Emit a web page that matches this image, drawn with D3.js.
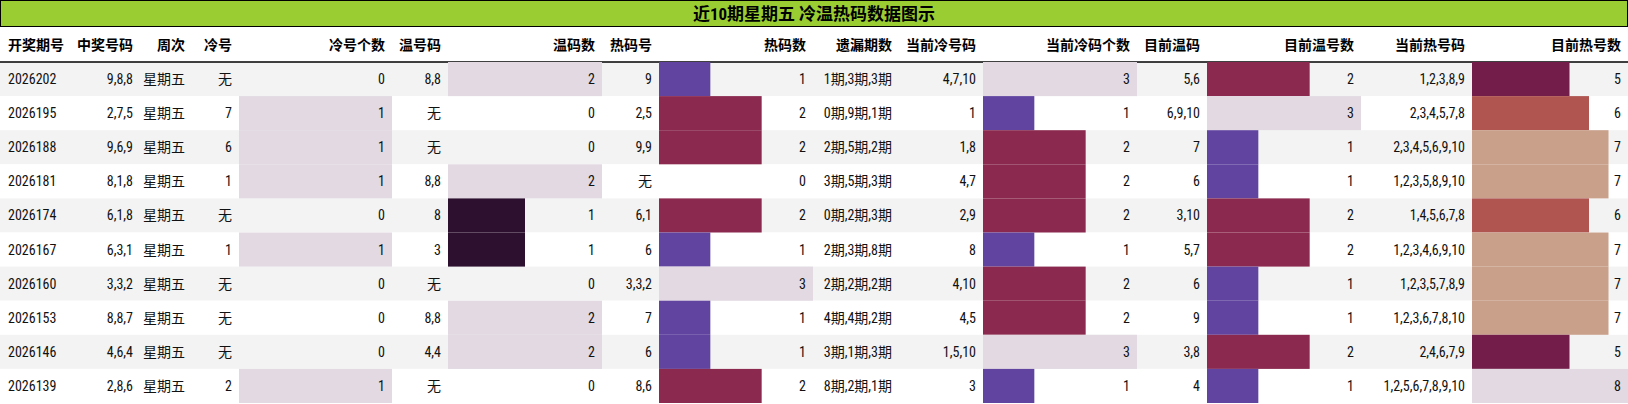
<!DOCTYPE html>
<html><head><meta charset="utf-8">
<script src="https://cdn.jsdelivr.net/npm/d3@7"></script>
<style>body{margin:0;background:#fff}svg{display:block}</style>
</head><body><div id="c"></div>
<script>
const title = "近10期星期五 冷温热码数据图示";
const headers = ["开奖期号","中奖号码","周次","冷号","冷号个数","温号码","温码数","热码号","热码数","遗漏期数","当前冷号码","当前冷码个数","目前温码","目前温号数","当前热号码","目前热号数"];
const issues = ["2026202","2026195","2026188","2026181","2026174","2026167","2026160","2026153","2026146","2026139"];
const winning = ["9,8,8","2,7,5","9,6,9","8,1,8","6,1,8","6,3,1","3,3,2","8,8,7","4,6,4","2,8,6"];
const weekday = ["星期五","星期五","星期五","星期五","星期五","星期五","星期五","星期五","星期五","星期五"];
const coldNums = ["无","7","6","1","无","1","无","无","无","2"];
const coldCount = [0,1,1,1,0,1,0,0,0,1];
const warmNums = ["8,8","无","无","8,8","8","3","无","8,8","4,4","无"];
const warmCount = [2,0,0,2,1,1,0,2,2,0];
const hotNums = ["9","2,5","9,9","无","6,1","6","3,3,2","7","6","8,6"];
const hotCount = [1,2,2,0,2,1,3,1,1,2];
const missing = ["1期,3期,3期","0期,9期,1期","2期,5期,2期","3期,5期,3期","0期,2期,3期","2期,3期,8期","2期,2期,2期","4期,4期,2期","3期,1期,3期","8期,2期,1期"];
const curCold = ["4,7,10","1","1,8","4,7","2,9","8","4,10","4,5","1,5,10","3"];
const curColdCount = [3,1,2,2,2,1,2,2,3,1];
const curWarm = ["5,6","6,9,10","7","6","3,10","5,7","6","9","3,8","4"];
const curWarmCount = [2,3,1,1,2,2,1,1,2,1];
const curHot = ["1,2,3,8,9","2,3,4,5,7,8","2,3,4,5,6,9,10","1,2,3,5,8,9,10","1,4,5,6,7,8","1,2,3,4,6,9,10","1,2,3,5,7,8,9","1,2,3,6,7,8,10","2,4,6,7,9","1,2,5,6,7,8,9,10"];
const curHotCount = [5,6,7,7,6,7,7,7,5,8];

const columns = [issues,winning,weekday,coldNums,coldCount,warmNums,warmCount,hotNums,hotCount,missing,curCold,curColdCount,curWarm,curWarmCount,curHot,curHotCount];
const barCols = new Set([4,6,8,11,13,15]);
const edges = [0,71,140,192,239,392,448,602,659,813,899,983,1137,1207,1361,1472,1628];

// twilight-like cyclic colour scale
const twilight = d3.scaleLinear()
  .domain([0,0.15,0.25,0.333,0.5,0.625,0.667,0.75,0.875,1])
  .range(["#e2d9e2","#a5b4cc","#6a78be","#6044a0","#2d1030","#731d4a","#8b2a4e","#b05550","#c9a08a","#e2d9e2"])
  .interpolate(d3.interpolateRgb);

const W=1628,H=404,titleH=27,headH=35,rowH=34.1;
const svg=d3.select("#c").append("svg").attr("width",W).attr("height",H);
const font="'Liberation Sans Narrow','Roboto Condensed','Liberation Sans','Noto Sans CJK SC',sans-serif";
svg.append("rect").attr("x",0.5).attr("y",0.5).attr("width",W-1).attr("height",titleH-1).attr("fill","#9acd32").attr("stroke","#000");
svg.append("text").attr("x",W/2).attr("y",titleH/2+6).attr("text-anchor","middle").attr("font-family",font).attr("font-weight","bold").attr("font-size",17).text(title);

const y=d3.scaleBand().domain(d3.range(issues.length)).range([titleH+headH,titleH+headH+rowH*issues.length]);
svg.selectAll("rect.row").data(d3.range(issues.length)).join("rect")
 .attr("x",0).attr("width",W).attr("y",i=>y(i)).attr("height",y.bandwidth()).attr("fill",i=>i%2===0?"#f3f3f3":"#fff");

headers.forEach((h,c)=>{
  svg.append("text").attr("font-family",font).attr("font-weight","bold").attr("font-size",14)
   .attr("x",c===0?8:edges[c+1]-7).attr("text-anchor",c===0?"start":"end").attr("y",titleH+headH/2+5).text(h);
});
svg.append("line").attr("x1",0).attr("x2",W).attr("y1",titleH+headH).attr("y2",titleH+headH).attr("stroke","#000").attr("stroke-width",1.5);

columns.forEach((col,c)=>{
  if(barCols.has(c)){
    const mx=d3.max(col);
    const x=d3.scaleLinear().domain([0,mx]).range([edges[c],edges[c+1]]);
    svg.selectAll(null).data(col).join("rect").attr("x",edges[c]).attr("y",(d,i)=>y(i))
      .attr("height",y.bandwidth()).attr("width",d=>x(d)-edges[c])
      .attr("fill",d=>twilight(d/mx));
  }
  svg.selectAll(null).data(col).join("text").attr("font-family",font).attr("font-size",14).attr("fill","#111")
   .attr("x",c===0?8:edges[c+1]-7).attr("text-anchor",c===0?"start":"end")
   .attr("y",(d,i)=>y(i)+y.bandwidth()/2+5).text(d=>d);
});
</script></body></html>
